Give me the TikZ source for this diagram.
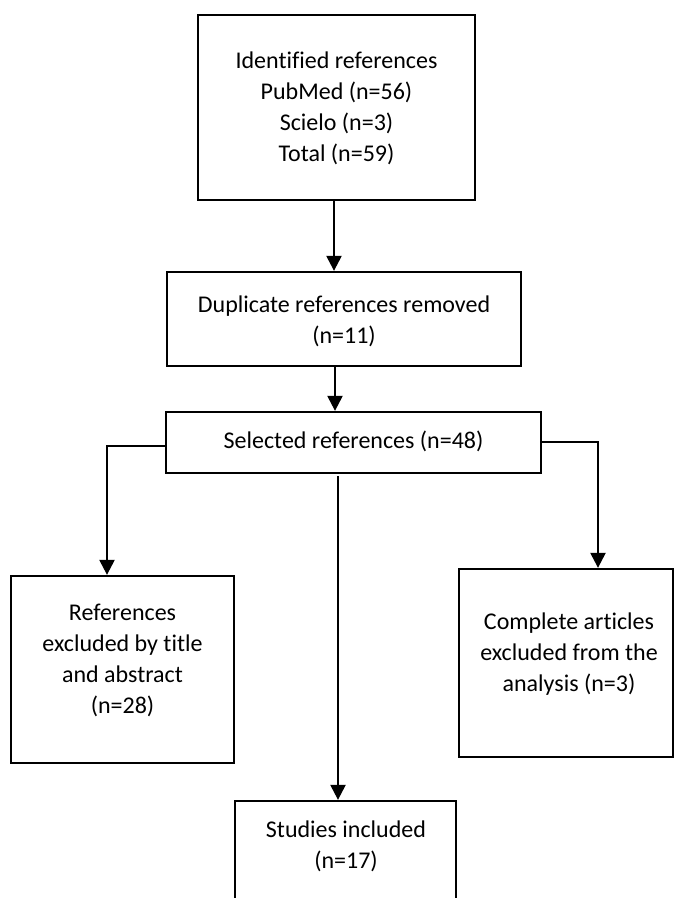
\documentclass[tikz,border=0pt]{standalone}
\usepackage{fontspec}
\setmainfont{Carlito}[Ligatures={NoCommon}]
\usetikzlibrary{arrows.meta,fit}
\begin{document}
\begin{tikzpicture}[x=0.5pt,y=-0.5pt,
  box/.style={draw,line width=1.15pt,rectangle,inner sep=0pt},
  txt/.style={align=center,font=\fontsize{12}{15.5}\selectfont,inner sep=0pt},
  arr/.style={line width=1.15pt,-{Triangle[width=7.5pt,length=7.5pt]}}]
\useasboundingbox (0,0) rectangle (675,898);
\clip (0,0) rectangle (675,898);
% boxes
\node[box,fit={(198,15) (475,200)}] (top) {};
\node[box,fit={(167,272) (521,366)}] (dup) {};
\node[box,fit={(166,412) (541,473)}] (sel) {};
\node[box,fit={(11,576) (234,763)}] (lbox) {};
\node[box,fit={(459,569) (673,757)}] (rbox) {};
\node[box,fit={(235,801) (456,960)}] (stud) {};
% texts
\node[txt] (toptxt) at (336.5,108) {Identified references\\PubMed (n=56)\\Scielo (n=3)\\Total (n=59)};
\node[txt] (duptxt) at (344,321) {Duplicate references removed\\(n=11)};
\node[txt] (seltxt) at (353.5,441) {Selected references (n=48)};
\node[txt] (ltxt) at (122.5,660) {References\\excluded by title\\and abstract\\(n=28)};
\node[txt] (rtxt) at (569,654) {Complete articles\\excluded from the\\analysis (n=3)};
\node[txt] (studtxt) at (346,846) {Studies included\\(n=17)};
% connectors
\draw[arr] ([xshift=-1.25pt]top.south) -- ([xshift=-1.25pt]top.south |- dup.north);
\draw[arr] ([xshift=-4.5pt]dup.south) -- ([xshift=-4.5pt]dup.south |- sel.north);
\coordinate (lc) at (107,446);
\coordinate (rc) at (598,442);
\coordinate (cc) at (338,476);
\draw[arr] (lc -| sel.west) -- (lc) -- (lc |- lbox.north);
\draw[arr] (rc -| sel.east) -- (rc) -- (rc |- rbox.north);
\draw[arr] (cc) -- (cc |- stud.north);
\end{tikzpicture}
\end{document}
